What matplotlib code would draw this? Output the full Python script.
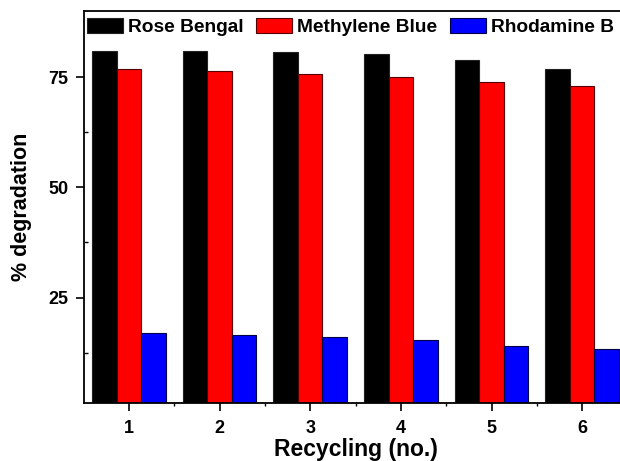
import numpy as np
import matplotlib.pyplot as plt

# recycling runs and % degradation of each dye
cycles = [1, 2, 3, 4, 5, 6]
rose_bengal = [81.0, 80.9, 80.6, 80.3, 79.0, 76.9]
methylene_blue = [76.9, 76.3, 75.8, 75.0, 74.0, 73.0]
rhodamine_b = [17.0, 16.5, 16.0, 15.3, 14.0, 13.4]

plt.rcParams["font.family"] = ["Liberation Sans", "DejaVu Sans"]
plt.rcParams["font.weight"] = "bold"

fig = plt.figure(figsize=(6.2, 4.61), dpi=100)
# axes run slightly past the right edge of the figure
ax = fig.add_axes([0.1347, 0.1252, 0.8774, 0.8509])

x = np.array(cycles)
w = 0.27
ax.bar(x - w, rose_bengal, w, color="black", edgecolor="#222222", linewidth=0.8, label="Rose Bengal")
ax.bar(x, methylene_blue, w, color="red", edgecolor="#550000", linewidth=0.8, label="Methylene Blue")
ax.bar(x + w, rhodamine_b, w, color="blue", edgecolor="#000044", linewidth=0.8, label="Rhodamine B")

ax.set_xlim(0.5, 6.5)
ax.set_ylim(1, 90)
ax.set_xticks(cycles)
ax.set_xticks(np.arange(1.5, 6.5, 1), minor=True)
ax.set_yticks([25, 50, 75])
ax.set_yticks([12.5, 37.5, 62.5], minor=True)
ax.tick_params(axis="both", which="major", direction="out", length=6, width=1.2, labelsize=13)
ax.tick_params(axis="x", which="major", pad=6)
ax.tick_params(axis="y", which="major", pad=5)
ax.tick_params(axis="y", which="minor", direction="in", length=3, width=1)
ax.tick_params(axis="x", which="minor", direction="out", length=2, width=1)
for lab in ax.get_xticklabels() + ax.get_yticklabels():
    lab.set_fontweight("bold")

for s in ax.spines.values():
    s.set_linewidth(1.3)

ax.set_xlabel("Recycling (no.)", fontsize=16.5, fontweight="bold", va="baseline")
ax.xaxis.set_label_coords(0.5, -0.134)
ax.set_ylabel("% degradation", fontsize=15.5, fontweight="bold")
ax.yaxis.set_label_coords(-0.095, 0.5)

ax.legend(loc="center left", bbox_to_anchor=(0.006, 0.958), ncol=3, frameon=False,
          handlelength=1.9, handleheight=0.8, handletextpad=0.25,
          columnspacing=0.65, borderpad=0, borderaxespad=0,
          prop={"weight": "bold", "size": 13.8})

fig.savefig("out.png", dpi=100)
